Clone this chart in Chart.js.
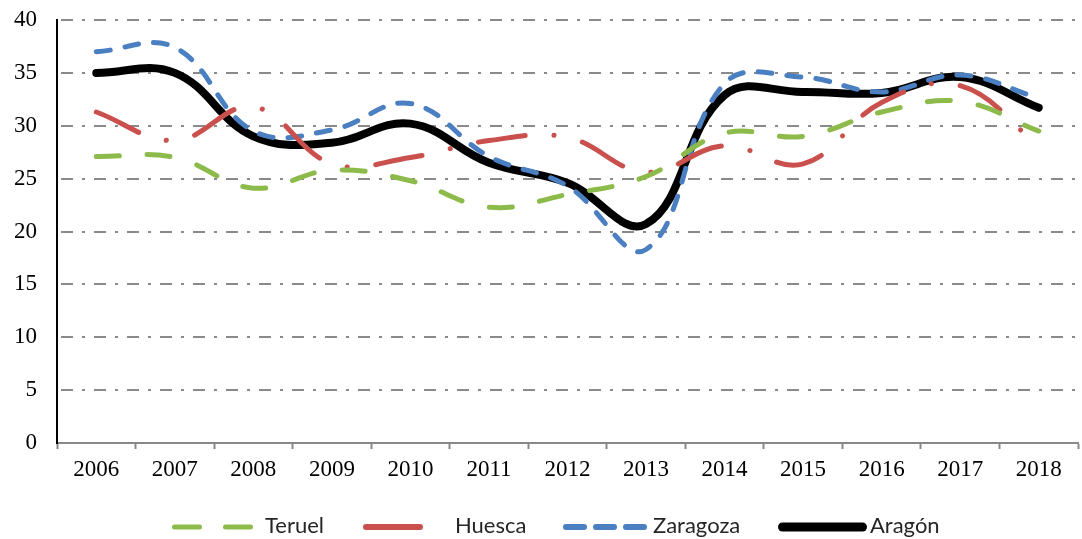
<!DOCTYPE html>
<html>
<head>
<meta charset="utf-8">
<script src="https://cdn.jsdelivr.net/npm/chart.js@4/dist/chart.umd.min.js"></script>
<style>
  html, body { margin: 0; padding: 0; background: #fff; }
  #wrap { width: 1082px; height: 539px; }
</style>
</head>
<body>
<div id="wrap"><canvas id="chart"></canvas></div>
<script>
const years = ["2006", "2007", "2008", "2009", "2010", "2011", "2012", "2013", "2014", "2015", "2016", "2017", "2018"];
const teruel = [27.1, 27.0, 24.1, 25.8, 24.8, 22.3, 23.5, 25.2, 29.3, 29.0, 31.3, 32.3, 29.5];
const huesca = [31.3, 28.6, 31.8, 26.4, 27.0, 28.6, 28.9, 25.6, 28.1, 26.4, 32.2, 33.8, 28.1];
const zaragoza = [37.0, 37.4, 29.5, 29.6, 32.1, 27.1, 24.3, 18.3, 34.0, 34.6, 33.2, 34.8, 32.6];
const aragon = [35.0, 35.0, 29.0, 28.4, 30.2, 26.5, 24.6, 20.7, 32.9, 33.2, 33.1, 34.6, 31.7];
const yTicks = [0, 5, 10, 15, 20, 25, 30, 35, 40];

const serif = "'Liberation Serif', 'Times New Roman', serif";
const sans = "Lato, 'Liberation Sans', sans-serif";

function series(label, data, color, width, dash) {
    return {
        label: label,
        data: data,
        borderColor: color,
        backgroundColor: color,
        borderWidth: width,
        borderDash: dash,
        borderCapStyle: "round",
        borderJoinStyle: "round",
        pointRadius: 0,
        pointHoverRadius: 0,
        tension: 0.4,
        fill: false
    };
}

// legend drawn by hand, laid out like the original (line start, line length, text start)
const legendSlots = [
    { x: 172, len: 81, textX: 265, width: 5, dash: [25, 26] },
    { x: 363, len: 60, textX: 455, width: 6, dash: [] },
    { x: 563, len: 84, textX: 653, width: 6, dash: [18, 12] },
    { x: 778, len: 89, textX: 870, width: 9, dash: [] }
];

const legendPlugin = {
    id: "bottomLegend",
    afterDraw: function (chart) {
        const ctx = chart.ctx;
        const y = 527;
        ctx.save();
        chart.data.datasets.forEach(function (ds, i) {
            const s = legendSlots[i];
            ctx.strokeStyle = ds.borderColor;
            ctx.lineWidth = s.width;
            ctx.lineCap = "round";
            ctx.setLineDash(s.dash);
            ctx.beginPath();
            ctx.moveTo(s.x + s.width / 2, y);
            ctx.lineTo(s.x + s.len - s.width / 2, y);
            ctx.stroke();
            ctx.setLineDash([]);
            ctx.fillStyle = "#262626";
            ctx.font = "22px " + sans;
            ctx.textBaseline = "middle";
            ctx.textAlign = "left";
            ctx.fillText(ds.label, s.textX, y - 1);
        });
        ctx.restore();
    }
};

const gridPlugin = {
    id: "dashDotGrid",
    beforeDatasetsDraw: function (chart) {
        const ctx = chart.ctx;
        const area = chart.chartArea;
        const y = chart.scales.y;
        ctx.save();
        ctx.strokeStyle = "#8a8a8a";
        ctx.lineWidth = 2;
        ctx.setLineDash([12, 9, 3, 9]);
        yTicks.forEach(function (v) {
            if (v === 0) return;
            const py = Math.round(y.getPixelForValue(v));
            ctx.beginPath();
            ctx.moveTo(area.left + 4, py);
            ctx.lineTo(area.right, py);
            ctx.stroke();
        });
        ctx.restore();
    }
};

new Chart(document.getElementById("chart"), {
    type: "line",
    data: {
        labels: years,
        datasets: [
            series("Teruel", teruel, "#8dbb4b", 5, [23, 28]),
            series("Huesca", huesca, "#c9504c", 5, [47, 29, 0.1, 29]),
            series("Zaragoza", zaragoza, "#4a7fc1", 5, [14, 15]),
            series("Aragón", aragon, "#000000", 8, [])
        ]
    },
    options: {
        responsive: true,
        maintainAspectRatio: false,
        animation: false,
        layout: { padding: { top: 20, right: 4, left: 0, bottom: 56 } },
        plugins: {
            tooltip: { enabled: false },
            legend: { display: false }
        },
        scales: {
            x: {
                offset: true,
                afterFit: function (scale) { scale.height = 40; },
                grid: {
                    offset: true,
                    drawOnChartArea: false,
                    drawTicks: true,
                    tickLength: 6,
                    tickColor: "#888",
                    tickWidth: 2
                },
                border: { color: "#888", width: 2 },
                ticks: {
                    color: "#000",
                    padding: 7,
                    maxRotation: 0,
                    font: { family: serif, size: 23 }
                }
            },
            y: {
                min: 0,
                max: 40,
                afterBuildTicks: function (scale) {
                    scale.ticks = yTicks.map(function (v) { return { value: v }; });
                },
                afterFit: function (scale) {
                    scale.width = 57;
                    scale.paddingTop = 0;
                    scale.paddingBottom = 0;
                },
                grid: {
                    drawTicks: false,
                    color: "rgba(0,0,0,0)"
                },
                border: { color: "#000", width: 2 },
                ticks: {
                    color: "#000",
                    padding: 20,
                    font: { family: serif, size: 23 }
                }
            }
        }
    },
    plugins: [gridPlugin, legendPlugin]
});
</script>
</body>
</html>
